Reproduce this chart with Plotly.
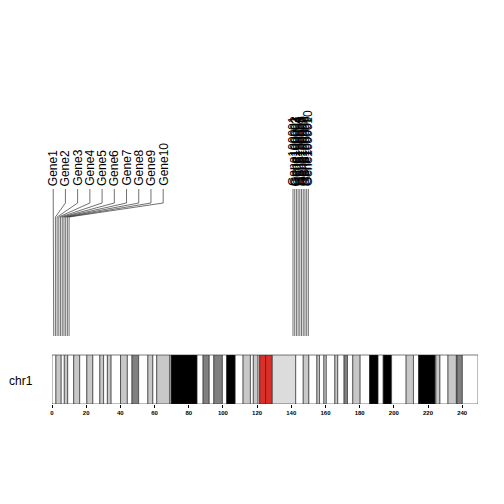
import plotly.graph_objects as go

# ---- cytoband data (chr1, Mb) ----
band_start = [0, 2.3, 5.4, 7.2, 9.2, 12.7, 16.2, 20.4, 23.9, 28.0, 30.2, 32.4, 34.6, 40.1, 44.1,
              46.8, 50.7, 56.1, 59.0, 61.3, 68.9, 69.7, 84.9, 88.4, 92.0, 94.7, 99.7, 102.2,
              107.2, 111.8, 116.1, 117.8, 120.6, 121.5, 125.0, 128.9, 142.6, 147.0, 150.3,
              155.0, 156.5, 159.1, 160.5, 165.5, 167.2, 170.9, 172.9, 176.0, 180.3, 185.8,
              190.8, 193.8, 198.7, 207.2, 211.5, 214.5, 224.1, 224.6, 227.0, 231.7, 236.6,
              237.0, 240.1]
band_end = band_start[1:] + [249.25]
band_stain = ["gneg", "gpos25", "gneg", "gpos25", "gneg", "gpos50", "gneg", "gpos25", "gneg",
              "gpos25", "gneg", "gpos25", "gneg", "gpos25", "gneg", "gpos75", "gneg", "gpos50",
              "gneg", "gpos50", "gneg", "gpos100", "gneg", "gpos75", "gneg", "gpos75", "gneg",
              "gpos100", "gneg", "gpos50", "gneg", "gpos50", "gneg", "acen", "acen", "gvar",
              "gneg", "gpos50", "gneg", "gpos50", "gneg", "gpos50", "gneg", "gpos50", "gneg",
              "gpos75", "gneg", "gpos50", "gneg", "gpos100", "gneg", "gpos100", "gneg",
              "gpos25", "gneg", "gpos100", "gneg", "gpos25", "gneg", "gpos50", "gneg",
              "gpos75", "gneg"]

# ---- markers (Mb) ----
group1_pos = [1, 2, 3, 4, 5, 6, 7, 8, 9, 10]
group1_labels = ["Gene%d" % i for i in range(1, 11)]
group2_pos = [141, 142, 143, 144, 145, 146, 147, 148, 149, 150]
group2_labels = ["Gene10000%d" % i for i in range(1, 11)]

tick_vals = [0, 20, 40, 60, 80, 100, 120, 140, 160, 180, 200, 220, 240]

stain_color = {"gneg": "#ffffff", "gpos25": "#c8c8c8", "gpos50": "#c8c8c8",
               "gpos75": "#808080", "gpos100": "#000000", "acen": "#d92f27",
               "gvar": "#dcdcdc"}

# layout constants (vertical pixel-like units, page coordinates)
PAGE_OFFSET = 8  # default body margin of the html page
IDEO_TOP, IDEO_BOT = 355, 404
LINE_BOT, KINK_LOW, KINK_HIGH, LABEL_BOT = 336, 217, 203, 189
LABEL_SPACING = 7.15  # Mb, minimum spacing between spread labels

fig = go.Figure()

centers = [(s + e) / 2 for s, e in zip(band_start, band_end)]
widths = [e - s for s, e in zip(band_start, band_end)]
fig.add_trace(go.Bar(
    x=centers, width=widths, y=[IDEO_BOT - IDEO_TOP] * len(centers), base=IDEO_TOP,
    marker=dict(color=[stain_color[s] for s in band_stain], line=dict(color="#222222", width=0.6)),
    hoverinfo="skip", showlegend=False))


def spread(pos):
    out = []
    for p in pos:
        if out:
            out.append(max(p, out[-1] + LABEL_SPACING))
        else:
            out.append(p - 0.3)
    return out


annotations = []
for pos, labels, do_spread in [(group1_pos, group1_labels, True), (group2_pos, group2_labels, False)]:
    lx = spread(pos) if do_spread else list(pos)
    xs, ys = [], []
    for p, l in zip(pos, lx):
        xs += [p, p, l, l, None]
        ys += [LINE_BOT, KINK_LOW, KINK_HIGH, LABEL_BOT, None]
    fig.add_trace(go.Scatter(x=xs, y=ys, mode="lines",
                             line=dict(color="#333333", width=0.7),
                             hoverinfo="skip", showlegend=False))
    for l, t in zip(lx, labels):
        annotations.append(dict(x=l, y=LABEL_BOT - 1, xref="x", yref="y", text=t,
                                textangle=-90, showarrow=False, xanchor="center",
                                yanchor="bottom", font=dict(size=12, color="black",
                                                            family="Liberation Sans")))

annotations.append(dict(x=0, y=(IDEO_TOP + IDEO_BOT) / 2 + 1, xref="x", yref="y", text="chr1",
                        showarrow=False, xanchor="right", xshift=-17,
                        font=dict(size=12, color="black", family="Liberation Sans")))

W = H = 504
fig.update_layout(
    width=W, height=H,
    margin=dict(l=52 - PAGE_OFFSET, r=W + PAGE_OFFSET - 478, t=0,
                b=H + PAGE_OFFSET - IDEO_BOT),
    plot_bgcolor="white", paper_bgcolor="white",
    annotations=annotations,
    xaxis=dict(range=[0, 249.25], showgrid=False, zeroline=False, showline=False,
               tickmode="array", tickvals=tick_vals, ticks="outside", ticklen=3,
               tickwidth=0.7, tickcolor="black",
               tickfont=dict(size=6, color="black", family="Liberation Sans", weight="bold")),
    yaxis=dict(range=[IDEO_BOT, PAGE_OFFSET], visible=False, showgrid=False, zeroline=False),
)

fig.write_html("out.html")
